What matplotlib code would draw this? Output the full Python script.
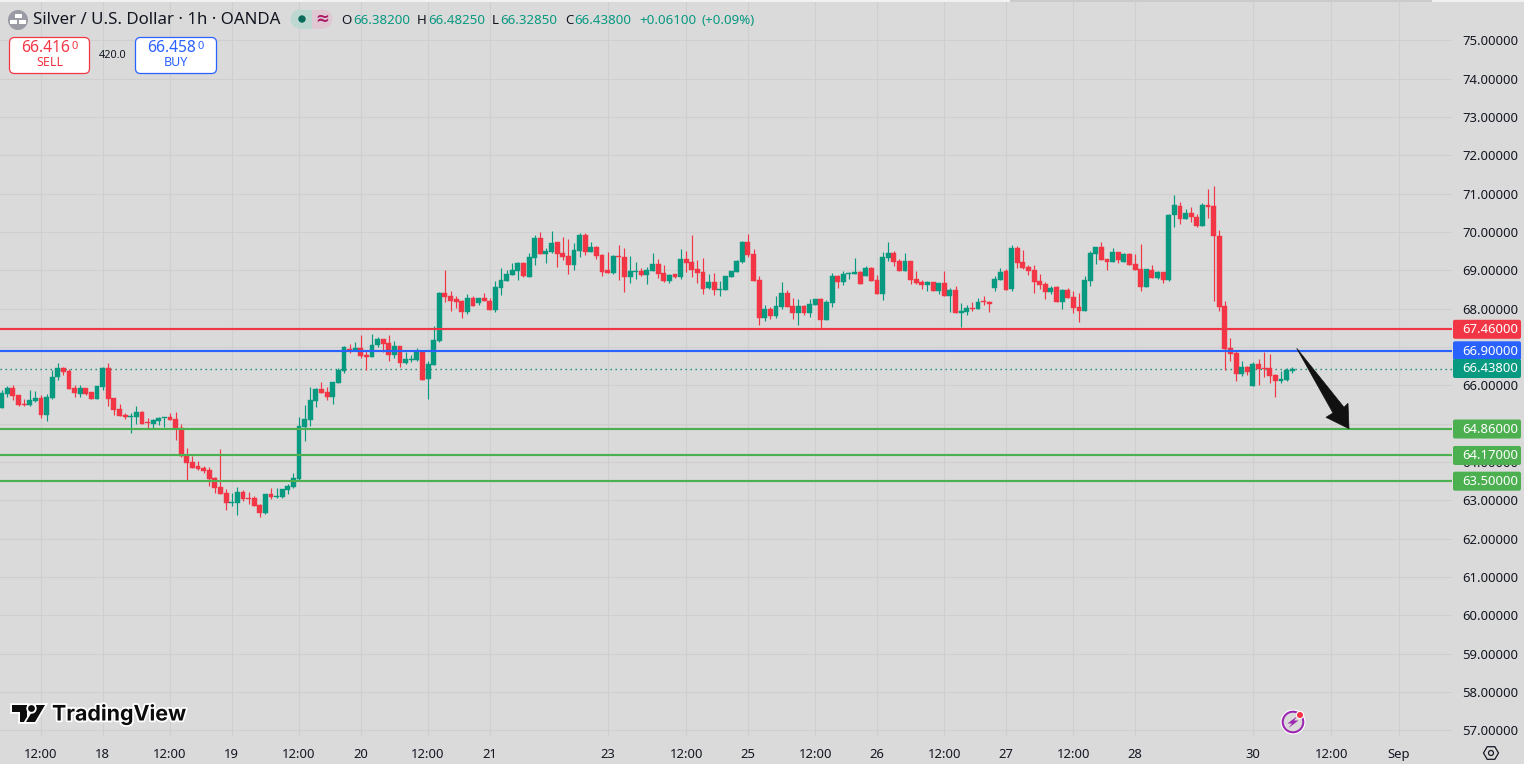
import matplotlib
matplotlib.use("Agg")
import matplotlib.pyplot as plt
import matplotlib.patheffects as pe
from matplotlib.patches import FancyBboxPatch, Polygon, Circle, Rectangle

plt.rcParams['font.family'] = ['Noto Sans', 'DejaVu Sans']

opens = [65.42,65.77,65.93,65.75,65.51,65.49,65.59,65.67,65.22,65.67,66.22,66.45,66.37,65.93,65.77,65.93,65.82,65.64,65.95,66.45,
65.67,65.38,65.22,65.17,65.17,65.30,65.04,64.99,65.07,65.15,65.17,65.12,64.89,64.18,64.00,63.89,63.84,63.79,63.58,63.35,
63.19,62.94,62.93,63.22,63.06,63.06,62.88,62.67,63.16,63.09,63.09,63.27,63.35,63.56,64.91,65.10,65.59,65.90,65.82,65.69,
66.06,66.37,66.94,66.89,66.97,66.79,66.74,67.05,67.21,67.10,66.79,67.02,66.58,66.66,66.66,66.87,66.16,66.53,67.15,68.41,
68.33,68.25,68.20,67.91,68.28,68.15,68.28,68.20,67.96,68.54,68.72,68.88,68.98,69.19,68.82,69.32,69.84,69.42,69.48,69.74,
69.45,69.37,69.14,69.50,69.92,69.48,69.61,69.40,69.01,68.93,69.37,69.35,68.82,68.96,68.98,68.88,68.98,69.16,68.93,68.72,
68.90,68.82,69.29,69.21,69.03,68.95,68.54,68.69,68.49,68.48,68.82,68.95,69.21,69.74,69.42,68.75,67.75,67.99,67.81,68.04,
68.41,68.07,67.88,68.07,67.88,68.09,68.25,67.70,68.15,68.85,68.69,68.91,68.90,68.95,68.85,69.06,68.75,68.38,69.32,69.45,
69.24,68.98,69.24,68.77,68.69,68.61,68.69,68.46,68.67,68.33,68.48,67.88,67.91,68.02,67.99,68.20,68.17,68.54,68.75,68.98,
68.51,69.58,69.21,69.08,69.01,68.72,68.64,68.43,68.56,68.17,68.48,68.30,68.04,67.94,68.72,69.42,69.61,69.29,69.21,69.48,
69.21,69.42,69.16,69.03,68.56,69.01,68.80,68.95,68.74,70.44,70.67,70.33,70.49,70.39,70.15,70.70,70.67,69.89,68.06,66.97,
66.84,66.29,66.47,65.98,66.55,66.45,66.45,66.27,66.11,66.13,66.38]

highs = [65.89,65.98,66.01,65.75,65.64,65.88,65.85,65.75,65.77,66.40,66.58,66.48,66.42,66.01,66.01,65.93,65.82,65.98,66.48,66.58,
65.67,65.51,65.28,65.28,65.46,65.33,65.15,65.12,65.17,65.17,65.28,65.30,64.99,64.36,64.16,64.02,63.89,63.87,63.61,64.34,
63.29,63.19,63.35,63.27,63.22,63.11,62.90,63.16,63.32,63.32,63.29,63.43,63.71,65.17,65.49,65.95,65.93,66.09,65.96,66.09,
66.44,67.02,67.08,67.13,67.31,66.92,67.34,67.26,67.21,67.31,67.15,67.02,66.87,66.79,66.97,66.92,66.63,67.55,68.43,69.01,
68.46,68.33,68.22,68.38,68.33,68.28,68.41,68.28,68.72,69.06,69.01,69.19,69.21,69.21,69.45,69.92,70.00,69.58,70.02,69.74,
69.87,69.81,69.71,69.97,69.97,69.74,69.63,69.42,69.48,69.40,69.66,69.58,69.37,69.21,69.06,69.08,69.45,69.29,69.14,68.90,
68.90,69.55,69.50,69.92,69.27,69.32,68.90,68.93,68.72,68.85,68.98,69.27,69.76,69.94,69.55,68.85,68.09,68.04,68.33,68.69,
68.48,68.28,68.25,68.09,68.25,68.25,68.28,68.22,68.93,68.88,68.98,68.95,69.32,68.98,69.11,69.08,68.88,69.48,69.74,69.50,
69.29,69.45,69.24,68.98,68.75,68.72,68.69,68.67,68.98,68.54,68.59,68.15,68.09,68.17,68.28,68.33,68.20,68.85,69.06,69.03,
69.66,69.63,69.53,69.14,69.14,68.90,68.69,68.59,68.59,68.51,68.54,68.46,68.41,68.85,69.50,69.61,69.74,69.29,69.58,69.48,
69.45,69.45,69.42,69.68,69.03,69.14,68.98,68.95,70.47,70.96,70.78,70.59,70.65,70.46,70.75,71.12,71.19,70.05,68.19,67.23,
66.89,66.63,66.50,66.60,66.68,66.86,66.81,66.29,66.37,66.45,66.4825]

lows = [65.42,65.70,65.62,65.46,65.47,65.46,65.56,65.15,65.07,65.64,66.14,66.27,65.90,65.69,65.69,65.75,65.64,65.64,65.88,65.46,
65.22,65.20,65.12,64.75,64.99,64.99,64.86,64.89,64.96,64.91,65.09,64.57,64.13,63.53,63.84,63.79,63.71,63.37,63.19,63.16,
62.75,62.85,62.62,62.98,62.90,62.85,62.56,62.64,63.03,63.06,63.06,63.16,63.32,63.53,64.55,64.95,65.43,65.80,65.62,65.51,
66.06,66.32,66.84,66.89,66.71,66.40,66.74,67.00,66.87,66.63,66.71,66.48,66.55,66.61,66.63,66.14,65.64,66.53,67.13,68.17,
67.94,68.02,67.75,67.86,68.07,68.09,68.20,67.96,67.91,68.35,68.72,68.88,68.75,68.82,68.82,69.14,69.42,69.19,69.45,69.08,
69.27,68.90,69.01,69.35,69.40,69.48,69.29,68.85,68.93,68.90,68.75,68.43,68.67,68.77,68.85,68.64,68.98,68.80,68.69,68.67,
68.80,68.77,68.95,68.82,68.67,68.38,68.51,68.35,68.33,68.48,68.82,68.95,69.19,69.35,68.72,67.57,67.68,67.73,67.75,67.99,
68.04,67.73,67.57,67.83,67.78,68.09,67.47,67.70,68.04,68.54,68.61,68.77,68.90,68.64,68.85,68.72,68.38,68.22,69.24,69.11,
68.98,68.98,68.64,68.64,68.51,68.46,68.46,68.38,68.33,67.91,67.88,67.52,67.83,67.94,67.99,68.09,67.91,68.46,68.75,68.48,
68.46,69.06,69.03,68.88,68.41,68.51,68.25,68.38,68.17,67.99,68.28,67.88,67.65,67.94,68.59,69.16,69.27,69.01,69.21,69.19,
69.21,69.14,69.01,68.46,68.56,68.80,68.77,68.67,68.72,70.12,70.20,70.33,70.25,70.12,70.15,70.36,68.19,67.93,66.40,66.63,
66.11,66.24,66.27,65.98,66.00,66.21,66.06,65.69,66.06,66.11,66.3285]

closes = [65.81,65.93,65.73,65.49,65.49,65.62,65.67,65.22,65.69,66.22,66.45,66.35,65.90,65.80,65.93,65.77,65.64,65.98,66.45,65.64,
65.35,65.20,65.17,65.20,65.30,64.99,65.02,65.09,65.15,65.17,65.09,64.86,64.16,63.97,63.84,63.82,63.76,63.56,63.32,63.16,
62.93,62.96,63.22,63.03,63.04,62.85,62.67,63.16,63.09,63.11,63.29,63.37,63.58,64.94,65.12,65.62,65.90,65.80,65.69,66.09,
66.40,67.00,66.91,66.97,66.76,66.74,67.05,67.21,67.08,66.79,67.02,66.58,66.69,66.69,66.87,66.14,66.55,67.18,68.41,68.30,
68.20,68.17,67.91,68.28,68.07,68.28,68.20,67.96,68.56,68.75,68.90,69.01,69.19,68.85,69.35,69.84,69.42,69.50,69.71,69.42,
69.35,69.14,69.53,69.92,69.48,69.61,69.37,68.95,68.93,69.37,69.35,68.82,68.98,68.98,68.88,69.01,69.16,68.90,68.72,68.88,
68.82,69.29,69.19,69.01,68.93,68.51,68.69,68.48,68.51,68.85,68.98,69.24,69.74,69.40,68.72,67.75,67.99,67.81,68.07,68.41,
68.04,67.88,68.07,67.88,68.12,68.25,67.70,68.17,68.85,68.69,68.90,68.93,68.95,68.64,69.06,68.72,68.38,69.35,69.45,69.21,
68.98,69.24,68.75,68.67,68.61,68.69,68.46,68.67,68.33,68.48,67.88,67.94,68.02,68.00,68.17,68.18,68.12,68.77,68.95,68.48,
69.58,69.19,69.06,68.98,68.69,68.61,68.43,68.54,68.17,68.48,68.28,68.02,67.94,68.75,69.45,69.61,69.27,69.21,69.48,69.27,
69.42,69.14,69.01,68.56,69.03,68.80,68.95,68.75,70.44,70.70,70.33,70.49,70.39,70.15,70.70,70.65,69.89,68.04,66.94,66.81,
66.29,66.47,66.34,66.55,66.42,66.42,66.24,66.11,66.16,66.40,66.438]

price_ticks = [57,58,59,60,61,62,63,64,65,66,67,68,69,70,71,72,73,74,75]
time_idx = [7,18,30,41,53,64,76,87,108,122,133,145,156,168,179,191,202,223,237,249]
time_lbl = ['12:00','18','12:00','19','12:00','20','12:00','21','23','12:00','25','12:00','26','12:00','27','12:00','28','30','12:00','Sep']

level_prices = [67.46, 66.90, 64.86, 64.17, 63.50]
level_colors = ['#f23645', '#2962ff', '#4caf50', '#4caf50', '#4caf50']
last_price = 66.438
UP, DOWN = '#089981', '#f23645'
BG = '#dadada'
GRID = '#cfcfcf'
INK = '#131722'

W, H = 1524, 764
fig = plt.figure(figsize=(W/100, H/100), dpi=100, facecolor=BG)
PLOT_R, PLOT_B = 1452, 737
ax = fig.add_axes([0, (H-PLOT_B)/H, PLOT_R/W, (PLOT_B-2)/H], facecolor=BG)
PX = 5.611
x0 = -1.67/PX
ax.set_xlim(x0, x0 + PLOT_R/PX)
SC = 38.35
def py(p):
    return 385.3 - (p - 66)*SC
ax.set_ylim(66 - (PLOT_B-385.3)/SC, 66 + (385.3-2)/SC)

for s in ax.spines.values():
    s.set_visible(False)
ax.set_yticks(price_ticks)
ax.set_yticklabels([f'{p:.5f}' for p in price_ticks], fontsize=9.4, color=INK)
ax.yaxis.tick_right()
ax.tick_params(axis='y', length=0, pad=7.4)
ax.set_xticks(time_idx)
ax.set_xticklabels(time_lbl, fontsize=9.4, color=INK)
ax.get_xticklabels()[-1].set_fontweight('bold')
ax.tick_params(axis='x', length=0, pad=8)
ax.grid(True, color=GRID, lw=0.75, zorder=0)
ax.set_axisbelow(True)

xs = list(range(len(opens)))
cols = [UP if c >= o else DOWN for o, c in zip(opens, closes)]
ax.vlines(xs, lows, highs, colors=cols, lw=0.85, zorder=2)
ax.bar(xs, [abs(c-o) for o, c in zip(opens, closes)], bottom=[min(o, c) for o, c in zip(opens, closes)],
       width=0.87, color=cols, edgecolor=cols, linewidth=0.3, zorder=3)

ax.axhline(last_price, color='#0a8a75', lw=1.0, ls=(0, (1, 2.6)), zorder=1.5, dash_capstyle='butt')
for p, c in zip(level_prices, level_colors):
    ax.axhline(p, color=c, lw=1.55, zorder=4)

# overlay in screen pixels for the TradingView chrome
ov = fig.add_axes([0, 0, 1, 1], facecolor='none')
ov.set_xlim(0, W); ov.set_ylim(H, 0); ov.axis('off')

ov.add_patch(Rectangle((0, 0), 1010, 2, fc='#f1f1f1', ec='none'))
ov.add_patch(Rectangle((1010, 0), 422, 1.5, fc='#cbcbcb', ec='none'))
ov.add_patch(Rectangle((1432, 0), 92, 2, fc='#f1f1f1', ec='none'))

def tag(price, color):
    yc = py(price)
    ov.add_patch(FancyBboxPatch((1453+2, yc-9.5+2), 68-4, 19-4, boxstyle='round,pad=2,rounding_size=2',
                                fc=color, ec='none', zorder=5))
    ov.text(1462, yc+0.3, f'{price:.5f}', color='white', fontsize=9.4, va='center', ha='left', zorder=6, fontweight='medium')
for p, c in zip(level_prices, level_colors):
    tag(p, c)
tag(last_price, UP)

# arrow drawing
arrow = [(1296.7,348.3),(1333,413),(1326,417.3),(1349,428.7),(1348,403.3),(1344,407.3)]
ov.add_patch(Polygon(arrow, closed=True, fc='#111111', ec='#111111', lw=0.5, zorder=4))

# header
ov.add_patch(Circle((18, 20), 10, fc='#9b9ba5', ec='none'))
ov.add_patch(Rectangle((14.5, 14), 7, 4, fc='white', ec='none'))
ov.add_patch(Rectangle((10, 20), 7, 4, fc='white', ec='none'))
ov.add_patch(Rectangle((19, 20), 7, 4, fc='white', ec='none'))
ov.text(33, 20, 'Silver / U.S. Dollar · 1h · OANDA', fontsize=12.15, color=INK, va='center', ha='left')
ov.add_patch(Rectangle((300, 9.5), 12, 19, fc='#bcd8d1', ec='none'))
ov.add_patch(Circle((300, 19), 9.5, fc='#bcd8d1', ec='none'))
ov.add_patch(Rectangle((312, 9.5), 11, 19, fc='#e0c8d2', ec='none'))
ov.add_patch(Circle((323, 19), 9.5, fc='#e0c8d2', ec='none'))
ov.add_patch(Circle((302, 19), 3.7, fc='#0b6b5a', ec='none'))
ov.text(322, 18.5, '≈', fontsize=12, color='#ad1a66', ha='center', va='center', fontweight='bold', family='DejaVu Sans')
T = '#089981'
for x, s, c in [(341,'O',INK),(353,'66.38200',T),(417,'H',INK),(428,'66.48250',T),(492,'L',INK),(500,'66.32850',T),
                (565,'C',INK),(574,'66.43800',T),(639,'+0.06100',T),(702,'(+0.09%)',T)]:
    ov.text(x, 20, s, fontsize=9.6, color=c, va='center', ha='left')

def order_box(x, w, color, val, small, label):
    ov.add_patch(FancyBboxPatch((x, 37.5), w, 36, boxstyle='round,pad=0,rounding_size=5', fc='white', ec=color, lw=0.9))
    ov.text(x+w/2-4, 48.5, val, fontsize=11.2, color=color, va='center', ha='center', fontweight='medium')
    ov.text(x+w/2+25, 46.5, small, fontsize=8, color=color, va='center', ha='center')
    ov.text(x+w/2, 62.5, label, fontsize=9, color=color, va='center', ha='center')
order_box(9.5, 80, '#f23645', '66.416', '0', 'SELL')
order_box(135.5, 81, '#2962ff', '66.458', '0', 'BUY')
ov.text(113, 55, '420.0', fontsize=7.8, color=INK, va='center', ha='center')

# logo
halo = [pe.withStroke(linewidth=2.6, foreground='white')]
for poly in [[(12,705),(27,705),(27,722),(20,722),(20,712),(12,712)],
             [(36,705),(45,705),(35,722),(26,722)]]:
    p = Polygon(poly, closed=True, fc='#0c0c0c', ec='none', zorder=6)
    p.set_path_effects([pe.Stroke(linewidth=2.6, foreground='white'), pe.Normal()])
    ov.add_patch(p)
c = Circle((31.5, 708.5), 3.4, fc='#0c0c0c', ec='none', zorder=6)
c.set_path_effects([pe.Stroke(linewidth=2.6, foreground='white'), pe.Normal()])
ov.add_patch(c)
ov.text(52, 714, 'TradingView', fontsize=15.4, fontweight='bold', color='#0c0c0c', va='center', ha='left',
        family='Inter', path_effects=halo, zorder=6)

# lightning badge
ov.add_patch(Circle((1293, 722), 12.5, fc='white', ec='none', zorder=5))
ov.add_patch(Circle((1293, 722), 10.3, fc=BG, ec='#9c27b0', lw=1.5, zorder=5))
ov.add_patch(Polygon([(1297.5,716),(1287.5,723.5),(1292,723.5),(1288.5,728),(1298.5,720.5),(1294,720.5)], closed=True, fc='#9c27b0', ec='none', zorder=6))
ov.add_patch(Circle((1300, 715), 3.6, fc='#f23645', ec='white', lw=0.8, zorder=7))

# settings hexagon
ov.add_patch(Polygon([(1483.5,753),(1487.2,746.7),(1494.8,746.7),(1498.5,753),(1494.8,759.3),(1487.2,759.3)], closed=True, fc='none', ec=INK, lw=0.9))
ov.add_patch(Circle((1491, 753), 2.5, fc='none', ec=INK, lw=0.9))

fig.savefig('out.png', dpi=100, facecolor=BG)
